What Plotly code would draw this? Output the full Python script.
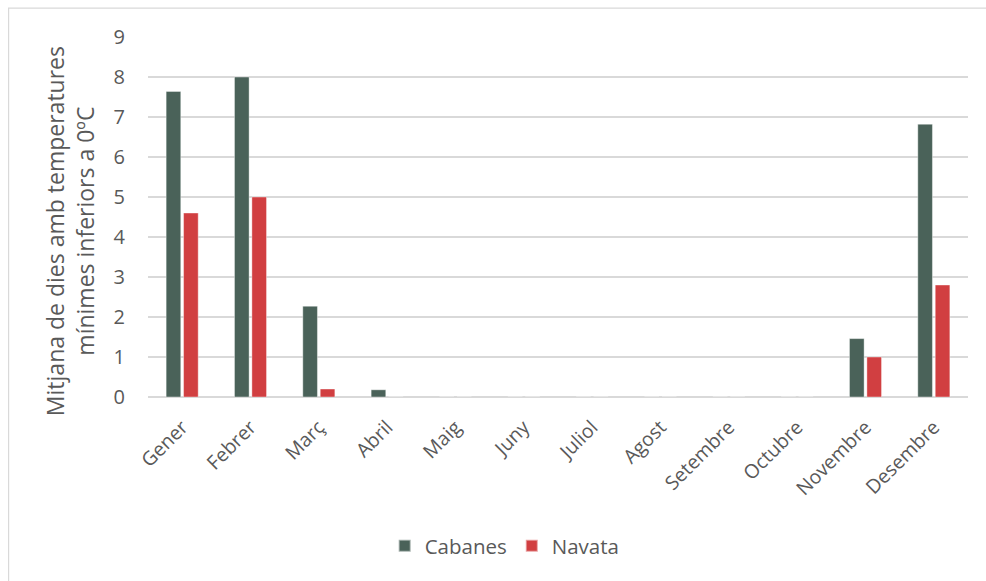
import plotly.graph_objects as go

# Mean number of days with minimum temperatures below 0 ºC, per month
months = ["Gener", "Febrer", "Març", "Abril", "Maig", "Juny", "Juliol",
          "Agost", "Setembre", "Octubre", "Novembre", "Desembre"]
cabanes = [7.64, 8.0, 2.27, 0.18, 0, 0, 0, 0, 0, 0, 1.46, 6.82]
navata = [4.6, 5.0, 0.2, 0, 0, 0, 0, 0, 0, 0, 1.0, 2.8]
y_ticks = [0, 1, 2, 3, 4, 5, 6, 7, 8, 9]
y_title = "Mitjana de dies amb temperatures<br>mínimes inferiors a 0ºC"

FONT = "'Open Sans', sans-serif"
TEXT = "#595959"

fig = go.Figure()
fig.add_trace(go.Bar(
    x=months, y=cabanes, name="Cabanes",
    marker=dict(color="#4A6259", line=dict(color="rgba(255,255,255,0.5)", width=0.8)),
))
fig.add_trace(go.Bar(
    x=months, y=navata, name="Navata",
    marker=dict(color="#D13F41", line=dict(color="rgba(255,255,255,0.5)", width=0.8)),
))

fig.update_layout(
    width=986, height=581,
    margin=dict(l=148, r=18, t=37, b=184),
    paper_bgcolor="white", plot_bgcolor="white",
    barmode="group", bargap=0.49, bargroupgap=0.16,
    font=dict(family=FONT, color=TEXT),
    showlegend=True,
    legend=dict(
        orientation="h", x=0.435, xanchor="center", y=-0.414, yanchor="middle",
        font=dict(size=20.5, color=TEXT), itemsizing="constant",
        traceorder="normal", itemwidth=30,
    ),
    xaxis=dict(
        tickangle=-45, tickfont=dict(size=19.5, color=TEXT),
        showgrid=False, showline=False, ticks="", ticklabelstandoff=14,
    ),
    yaxis=dict(
        range=[0, 9], tickvals=y_ticks, tickfont=dict(size=20, color=TEXT),
        showgrid=True, gridcolor="#D9D9D9", gridwidth=1.6,
        zeroline=True, zerolinecolor="#D9D9D9", zerolinewidth=1.6,
        showline=False, ticks="", ticklabelstandoff=22,
    ),
    annotations=[dict(
        text=y_title, textangle=-90, showarrow=False,
        xref="paper", yref="paper", x=-0.095, y=0.461,
        xanchor="center", yanchor="middle",
        font=dict(size=23, color=TEXT),
    )],
    shapes=[dict(
        type="rect", xref="paper", yref="paper",
        x0=-0.170, x1=1.04, y0=-0.52, y1=1.08,
        line=dict(color="#D9D9D9", width=1.2), fillcolor="rgba(0,0,0,0)",
        layer="below",
    )],
)

fig.write_html("out.html")
